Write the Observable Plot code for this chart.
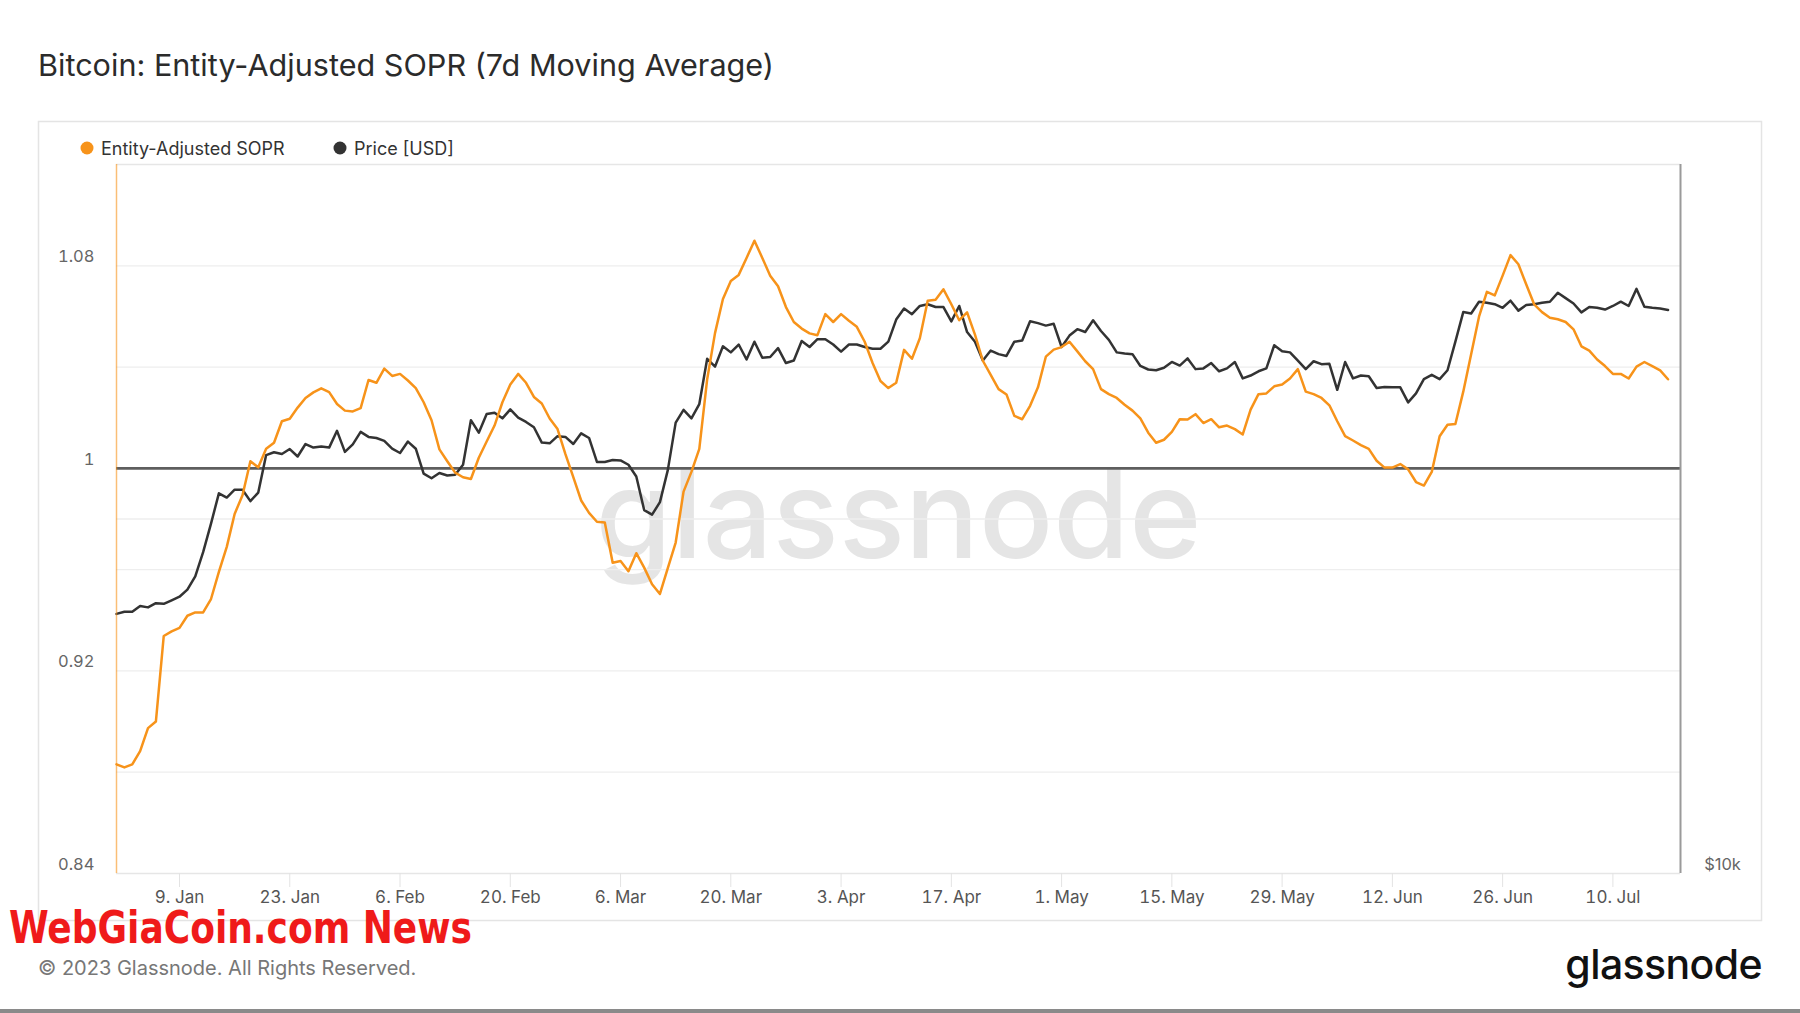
<!DOCTYPE html>
<html>
<head>
<meta charset="utf-8">
<script src="https://cdn.jsdelivr.net/npm/d3@7"></script>
<script src="https://cdn.jsdelivr.net/npm/@observablehq/plot@0.6"></script>
<style>
  html, body { margin: 0; padding: 0; background: #fff; }
  #page { position: relative; width: 1800px; height: 1013px; overflow: hidden; background: #fff; font-family: Inter, "Noto Sans", sans-serif; }
  #chart { position: absolute; left: 0; top: 0; }
  #overlay { position: absolute; left: 0; top: 0; pointer-events: none; }
</style>
</head>
<body>
<div id="page">
  <div id="chart"></div>
  <svg id="overlay" width="1800" height="1013" xmlns="http://www.w3.org/2000/svg"></svg>
</div>
<script>
// ---------------- DATA ----------------
const startDate = "2023-01-01"; // first daily value
const soprValues = [
  0.8831, 0.8819, 0.8831, 0.8883, 0.8974, 0.9000, 0.9338, 0.9356, 0.9370, 0.9418,
  0.9431, 0.9431, 0.9484, 0.9591, 0.9690, 0.9820, 0.9894, 1.0028, 1.0004, 1.0077,
  1.0101, 1.0186, 1.0196, 1.0240, 1.0278, 1.0300, 1.0316, 1.0301, 1.0254, 1.0228,
  1.0225, 1.0238, 1.0349, 1.0338, 1.0394, 1.0365, 1.0373, 1.0347, 1.0317, 1.0261,
  1.0190, 1.0075, 1.0028, 0.9983, 0.9965, 0.9958, 1.0042, 1.0106, 1.0169, 1.0261,
  1.0331, 1.0373, 1.0338, 1.0282, 1.0256, 1.0197, 1.0155, 1.0056, 0.9965, 0.9873,
  0.9824, 0.9789, 0.9786, 0.9627, 0.9634, 0.9594, 0.9665, 0.9608, 0.9542, 0.9504,
  0.9606, 0.9707, 0.9908, 0.9986, 1.0077, 1.0352, 1.0535, 1.0669, 1.0740, 1.0764,
  1.0831, 1.0899, 1.0831, 1.0761, 1.0719, 1.0637, 1.0578, 1.0552, 1.0533, 1.0526,
  1.0609, 1.0578, 1.0609, 1.0583, 1.0559, 1.0500, 1.0416, 1.0345, 1.0317, 1.0338,
  1.0468, 1.0433, 1.0514, 1.0662, 1.0666, 1.0707, 1.0648, 1.0585, 1.0616, 1.0528,
  1.0425, 1.0369, 1.0313, 1.0292, 1.0207, 1.0194, 1.0247, 1.0320, 1.0441, 1.0469,
  1.0479, 1.0500, 1.0462, 1.0423, 1.0392, 1.0313, 1.0293, 1.0278, 1.0251, 1.0228,
  1.0197, 1.0141, 1.0101, 1.0113, 1.0144, 1.0194, 1.0193, 1.0214, 1.0179, 1.0194,
  1.0162, 1.0169, 1.0155, 1.0134, 1.0232, 1.0293, 1.0296, 1.0324, 1.0331, 1.0355,
  1.0392, 1.0303, 1.0293, 1.0278, 1.0249, 1.0186, 1.0127, 1.0110, 1.0092, 1.0077,
  1.0030, 1.0003, 1.0003, 1.0017, 0.9996, 0.9946, 0.9932, 0.9986, 1.0127, 1.0172,
  1.0175, 1.0303, 1.0451, 1.0599, 1.0697, 1.0683, 1.0761, 1.0842, 1.0806, 1.0726,
  1.0648, 1.0617, 1.0595, 1.0589, 1.0578, 1.0549, 1.0482, 1.0465, 1.0430, 1.0404,
  1.0373, 1.0373, 1.0355, 1.0402, 1.0420, 1.0404, 1.0387, 1.0352
];
const priceValues = [
  16614, 16684, 16684, 16872, 16826, 16966, 16942, 17060, 17180, 17420,
  17877, 18745, 19820, 21030, 20856, 21178, 21178, 20711, 21061, 22661,
  22788, 22709, 22932, 22599, 23158, 22996, 23045, 22996, 23763, 22804,
  23140, 23712, 23482, 23433, 23303, 22947, 22755, 23270, 22947, 21854,
  21657, 21885, 21777, 21808, 22239, 24263, 23679, 24556, 24622, 24350,
  24778, 24383, 24180, 23928, 23222, 23189, 23515, 23482, 23158, 23647,
  23433, 22362, 22362, 22442, 22426, 22239, 21733, 20353, 20170, 20669,
  22007, 24147, 24761, 24350, 25039, 27358, 26940, 28034, 27703, 28131,
  27318, 28288, 27415, 27453, 27936, 27130, 27263, 28327, 27996, 28427,
  28427, 28131, 27742, 28131, 28131, 27996, 27898, 27898, 28288, 29539,
  30185, 29849, 30333, 30438, 30270, 30270, 29436, 30333, 28826, 28288,
  27263, 27800, 27607, 27511, 28288, 28349, 29436, 29334, 29191, 29295,
  27996, 28627, 28988, 28826, 29498, 28886, 28387, 27703, 27645, 27607,
  26978, 26790, 26753, 26885, 27188, 26998, 27376, 26810, 26848, 27130,
  26697, 26848, 27188, 26328, 26476, 26697, 26848, 28091, 27762, 27703,
  27263, 26810, 27226, 27073, 27092, 25747, 27188, 26328, 26476, 26439,
  25837, 25892, 25874, 25874, 25125, 25569, 26291, 26512, 26291, 26753,
  28288, 29975, 29891, 30587, 30522, 30438, 30227, 30651, 30059, 30396,
  30438, 30522, 30587, 31125, 30801, 30480, 29955, 30270, 30227, 30123,
  30333, 30587, 30333, 31364, 30290, 30227, 30185, 30101
];
const soprDomain = [0.84, 1.12];
const priceDomain = [10000, 40000];          // log price axis (right)
const yTicks = [0.84, 0.92, 1, 1.08];
const gridValues = [0.88, 0.92, 0.96, 0.98, 1.04, 1.08];
const priceTicks = [10000];
const priceTickLabels = ["$10k"];
const xTickDates = ["2023-01-09","2023-01-23","2023-02-06","2023-02-20","2023-03-06","2023-03-20",
  "2023-04-03","2023-04-17","2023-05-01","2023-05-15","2023-05-29","2023-06-12","2023-06-26","2023-07-10"];
const xDomain = ["2023-01-01T00:00Z", "2023-07-18T14:00Z"];

const titleText = "Bitcoin: Entity-Adjusted SOPR (7d Moving Average)";
const seriesNames = ["Entity-Adjusted SOPR", "Price [USD]"];
const seriesColors = ["#f7931a", "#333333"];

// ---------------- BUILD ----------------
const t0 = new Date(startDate + "T00:00Z");
const rows = soprValues.map((v, i) => ({
  date: new Date(t0.getTime() + i * 864e5),
  sopr: v,
  price: priceValues[i]
}));
// map price (log, right axis) into the shared left-axis coordinate
const priceToY = p => soprDomain[0] + (soprDomain[1] - soprDomain[0]) *
  Math.log(p / priceDomain[0]) / Math.log(priceDomain[1] / priceDomain[0]);

const xStart = new Date(xDomain[0]), xEnd = new Date(xDomain[1]);

const chart = Plot.plot({
  width: 1800,
  height: 925,
  marginLeft: 116,
  marginRight: 120,
  marginTop: 164,
  marginBottom: 52,
  style: { fontFamily: "Inter, 'Noto Sans', sans-serif", background: "transparent", overflow: "visible" },
  x: { type: "utc", domain: [xStart, xEnd] },
  y: { domain: soprDomain },
  marks: [
    Plot.text(["glassnode"], { frameAnchor: "middle", text: d => d, fontSize: 123, fontWeight: 500,
      fill: "#e5e5e5", dy: 0 }),
    Plot.ruleY(gridValues, { stroke: "#eeeeee", strokeWidth: 1.3 }),
    Plot.ruleY([soprDomain[1]], { stroke: "#e6e6e6", strokeWidth: 1.3 }),
    Plot.ruleY([soprDomain[0]], { stroke: "#e6e6e6", strokeWidth: 1.3 }),
    Plot.axisY({ ticks: yTicks, tickFormat: d => String(d), tickSize: 0, tickPadding: 22, dy: -9,
      fontSize: 16.5, fill: "#666", label: null }),
    Plot.axisX({ ticks: xTickDates.map(d => new Date(d + "T00:00Z")), tickFormat: d3.utcFormat("%-d. %b"),
      tickSize: 14, tickPadding: 3, stroke: "#e3e3e3", fill: "#555", fontSize: 17, label: null }),
    Plot.ruleY([1], { stroke: "#5e5e5e", strokeWidth: 2.6 }),
    Plot.line(rows, { x: "date", y: d => priceToY(d.price), stroke: seriesColors[1], strokeWidth: 2.5,
      strokeLinejoin: "round" }),
    Plot.line(rows, { x: "date", y: "sopr", stroke: seriesColors[0], strokeWidth: 2.5, strokeLinejoin: "round" }),
    Plot.ruleX([xStart], { stroke: "#f7931a", strokeOpacity: 0.6, strokeWidth: 1.5 }),
    Plot.ruleX([xEnd], { stroke: "#9a9a9a", strokeWidth: 2 }),
    Plot.text(priceTicks, { x: () => xEnd, y: d => priceToY(d), text: (d, i) => priceTickLabels[i],
      dx: 42, dy: -9, fontSize: 16.5, fill: "#666", textAnchor: "middle" })
  ]
});
document.getElementById("chart").appendChild(chart);

// ---------------- OVERLAY (title, legend, footer) ----------------
const ov = d3.select("#overlay");
ov.append("rect").attr("x", 38.5).attr("y", 121.5).attr("width", 1723).attr("height", 799)
  .attr("fill", "none").attr("stroke", "#e4e4e4").attr("stroke-width", 1.5);
ov.append("text").attr("x", 38).attr("y", 76).text(titleText)
  .attr("font-family", "Inter, sans-serif").attr("font-size", 30).attr("fill", "#2b2b2b")
  .attr("textLength", 736).attr("lengthAdjust", "spacingAndGlyphs");
const legX = [87, 340];
seriesNames.forEach((n, i) => {
  ov.append("circle").attr("cx", legX[i]).attr("cy", 148).attr("r", 6.5).attr("fill", seriesColors[i]);
  ov.append("text").attr("x", legX[i] + 14).attr("y", 154.5).text(n)
    .attr("font-family", "Inter, sans-serif").attr("font-size", 18).attr("fill", "#333");
});
ov.append("text").attr("x", 9).attr("y", 943).text("WebGiaCoin.com News")
  .attr("font-family", "'DejaVu Sans Condensed', 'DejaVu Sans', sans-serif").attr("font-weight", "bold")
  .attr("font-size", 44).attr("fill", "#ef1a1a").attr("textLength", 463).attr("lengthAdjust", "spacingAndGlyphs");
ov.append("text").attr("x", 38).attr("y", 975).text("© 2023 Glassnode. All Rights Reserved.")
  .attr("font-family", "Inter, sans-serif").attr("font-size", 20).attr("fill", "#777");
ov.append("text").attr("x", 1762).attr("y", 979).attr("text-anchor", "end").text("glassnode")
  .attr("font-family", "Inter, sans-serif").attr("font-size", 41).attr("font-weight", 500).attr("fill", "#111")
  .attr("letter-spacing", -0.6);
ov.append("rect").attr("x", 0).attr("y", 1009).attr("width", 1800).attr("height", 4).attr("fill", "#8a8a8a");
</script>
</body>
</html>
